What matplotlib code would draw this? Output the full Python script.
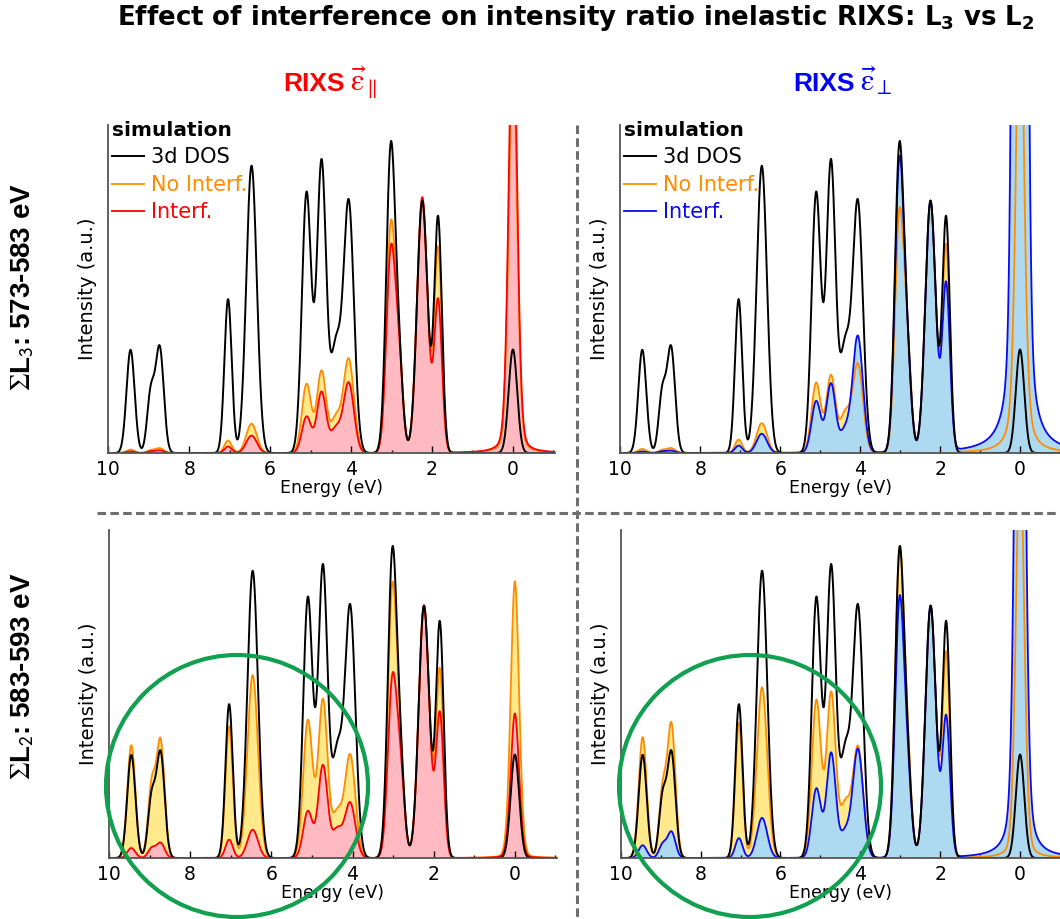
import numpy as np
import matplotlib
matplotlib.use("Agg")
import matplotlib.pyplot as plt
from matplotlib.patches import Ellipse
from matplotlib.lines import Line2D

# ---------------- data ----------------
# component peaks (energy loss, eV) shared by all spectra, with their Gaussian widths
peak_energy = [9.45, 8.95, 8.73, 7.04, 6.46, 5.10, 4.73, 4.38, 4.06, 3.02, 2.82, 2.24, 1.85]
peak_sigma = [0.10, 0.09, 0.10, 0.09, 0.13, 0.115, 0.115, 0.12, 0.13, 0.11, 0.10, 0.13, 0.095]

# heights of the curves at these energies (1.0 = highest 3d DOS peak)
dos_height = [0.332, 0.22, 0.346, 0.495, 0.924, 0.841, 0.946, 0.375, 0.817, 1.0, 0.45, 0.812, 0.763]

l3_par_nointerf = [0.011, 0.010, 0.016, 0.040, 0.094, 0.223, 0.266, 0.126, 0.305, 0.745, 0.42, 0.810, 0.665]
l3_par_interf = [0.005, 0.006, 0.009, 0.021, 0.056, 0.118, 0.198, 0.088, 0.228, 0.667, 0.40, 0.823, 0.498]
l3_perp_nointerf = [0.013, 0.011, 0.016, 0.043, 0.096, 0.227, 0.252, 0.139, 0.289, 0.785, 0.44, 0.804, 0.673]
l3_perp_interf = [0.005, 0.006, 0.008, 0.024, 0.062, 0.168, 0.225, 0.091, 0.378, 0.952, 0.45, 0.812, 0.552]

l2_par_nointerf = [0.363, 0.26, 0.386, 0.424, 0.588, 0.445, 0.513, 0.160, 0.335, 0.885, 0.43, 0.810, 0.612]
l2_par_interf = [0.032, 0.035, 0.050, 0.059, 0.091, 0.152, 0.300, 0.100, 0.180, 0.592, 0.36, 0.813, 0.472]
l2_perp_nointerf = [0.389, 0.25, 0.437, 0.435, 0.549, 0.510, 0.536, 0.190, 0.362, 0.998, 0.47, 0.810, 0.665]
l2_perp_interf = [0.041, 0.050, 0.086, 0.064, 0.129, 0.225, 0.340, 0.100, 0.352, 0.842, 0.40, 0.812, 0.461]

# elastic line at 0 eV: (Gaussian amplitude, Lorentzian tail weight)
elastic_sigma = 0.105
elastic_gamma = 0.10
dos_elastic = (0.333, 0.0)
l3_par_elastic = [(1.00, 0.003), (1.10, 0.004)]      # no interf., interf.
l3_perp_elastic = [(0.80, 0.009), (8.40, 0.030)]
l2_par_elastic = [(0.79, 0.001), (0.405, 0.0006)]
l2_perp_elastic = [(1.00, 0.0036), (2.20, 0.013)]

legend_labels = ["3d DOS", "No Interf.", "Interf."]
x_ticks = [10, 8, 6, 4, 2, 0]

# ---------------- spectrum construction ----------------
E = np.linspace(10.0, -1.1, 3000)
cen = np.array(peak_energy)
sig = np.array(peak_sigma)


def elastic(x, amp, tail):
    return amp * np.exp(-x ** 2 / (2 * elastic_sigma ** 2)) + tail / (x ** 2 + elastic_gamma ** 2)


def nnls(M, b):
    free = np.ones(M.shape[1], bool)
    x = np.zeros(M.shape[1])
    for _ in range(60):
        x = np.zeros(M.shape[1])
        x[free] = np.linalg.lstsq(M[:, free], b, rcond=None)[0]
        neg = x < 0
        if not neg.any():
            return x
        free &= ~neg
    return np.clip(x, 0, None)


def spectrum(heights, el):
    M = np.exp(-(cen[:, None] - cen[None, :]) ** 2 / (2 * sig[None, :] ** 2))
    target = np.array(heights) - elastic(cen, *el)
    amps = nnls(M, target)
    y = (amps[None, :] * np.exp(-(E[:, None] - cen[None, :]) ** 2 / (2 * sig[None, :] ** 2))).sum(axis=1)
    return y + elastic(E, *el)


dos = spectrum(dos_height, dos_elastic)

# ---------------- figure ----------------
W, H = 1060, 919
fig = plt.figure(figsize=(W / 100, H / 100), dpi=100)

ORANGE = "#FF8C00"
YELLOW = "#FFE98A"
RED = "#FF0000"
PINK = "#FFB9C1"
BLUE = "#0A0AF5"
LBLUE = "#AEDAF1"
SPINE = "#555555"


def px_axes(left, right, top, bottom):
    return fig.add_axes([left / W, 1 - bottom / H, (right - left) / W, (bottom - top) / H])


panels = [
    # left, right, top, bottom, xmin, nointerf, interf, elastic, color, fill, legend
    (108.3, 555.0, 125, 453, -1.04, l3_par_nointerf, l3_par_interf, l3_par_elastic, RED, PINK, True),
    (620.3, 1060.0, 125, 453, -0.811, l3_perp_nointerf, l3_perp_interf, l3_perp_elastic, BLUE, LBLUE, True),
    (109.0, 556.7, 530, 858, -1.03, l2_par_nointerf, l2_par_interf, l2_par_elastic, RED, PINK, False),
    (620.7, 1060.0, 530, 858, -0.82, l2_perp_nointerf, l2_perp_interf, l2_perp_elastic, BLUE, LBLUE, False),
]

for left, right, top, bottom, xmin, no_h, in_h, els, col, fcol, leg in panels:
    ax = px_axes(left, right, top, bottom)
    y_no = spectrum(no_h, els[0])
    y_in = spectrum(in_h, els[1])
    ax.fill_between(E, 0, y_no, color=YELLOW, lw=0)
    ax.fill_between(E, 0, y_in, color=fcol, lw=0)
    l_no, = ax.plot(E, y_no, color=ORANGE, lw=1.3)
    l_in, = ax.plot(E, y_in, color=col, lw=1.3)
    l_dos, = ax.plot(E, dos, color="black", lw=1.4)
    ax.set_xlim(10, xmin)
    ax.set_ylim(0, 1.055)
    ax.set_xticks(x_ticks)
    ax.set_xticks(np.arange(-1, 11, 1), minor=True)
    ax.set_yticks([])
    ax.tick_params(axis="x", which="major", direction="in", length=5, width=1.0,
                   labelsize=13.5, pad=5, color="black")
    ax.tick_params(axis="x", which="minor", direction="in", length=2.5, width=1.0, color="black")
    for s in ("top", "right"):
        ax.spines[s].set_visible(False)
    for s in ("left", "bottom"):
        ax.spines[s].set_color(SPINE)
        ax.spines[s].set_linewidth(1.3)
    ax.set_xlabel("Energy (eV)", fontsize=12.5, labelpad=0)
    ax.set_ylabel("Intensity (a.u.)", fontsize=14, labelpad=8)
    ax.patch.set_alpha(0)
    if leg:
        lg = ax.legend([l_dos, l_no, l_in], legend_labels, loc="upper left",
                       bbox_to_anchor=(0.0, 1.025), frameon=False, fontsize=15,
                       title="simulation", title_fontproperties={"weight": "bold", "size": 14.5},
                       handlelength=1.5, handletextpad=0.35, labelspacing=0.36,
                       borderpad=0.2, borderaxespad=0.0)
        lg._legend_box.align = "left"
        for t, c in zip(lg.get_texts(), ["black", ORANGE, col]):
            t.set_color(c)

# separators
dash = (0, (2.8, 1.4))
fig.add_artist(Line2D([97 / W, 1.0], [1 - 513 / H] * 2, transform=fig.transFigure,
                      color="#6E6E6E", lw=2.2, linestyle=dash))
fig.add_artist(Line2D([577 / W] * 2, [1 - 125 / H, 0.0], transform=fig.transFigure,
                      color="#6E6E6E", lw=2.2, linestyle=dash))

# green circles
for cx in (237, 750):
    fig.add_artist(Ellipse((cx / W, 1 - 786 / H), 262 / W, 262 / H, transform=fig.transFigure,
                           fill=False, edgecolor="#10A050", lw=3.0))

# titles
fig.text(576 / W, 1 - 25 / H, r"Effect of interference on intensity ratio inelastic RIXS: L$_\mathbf{3}$ vs L$_\mathbf{2}$",
         ha="center", va="baseline", fontsize=18.7, fontweight="bold", family="DejaVu Sans")

renderer = fig.canvas.get_renderer()
for x0, sub, c in ((283, r"\parallel", RED), (793, r"\perp", "#0000FF")):
    t = fig.text(x0 / W, 1 - 91 / H, "RIXS", ha="left", va="baseline",
                 fontsize=19, fontweight="bold", family="Liberation Sans", color=c)
    x1 = t.get_window_extent(renderer).x1
    fig.text((x1 + 5) / W, 1 - 91 / H, r"$\vec{\mathrm{\varepsilon}}_{%s}$" % sub, ha="left",
             va="baseline", fontsize=22, color=c, math_fontfamily="stix")

fig.text(23 / W, 1 - 287 / H, r"$\Sigma$L$_\mathsf{3}$: 573-583 eV", ha="center", va="center", rotation=90,
         fontsize=20, fontweight="bold", family="Liberation Sans", math_fontfamily="stix")
fig.text(23 / W, 1 - 676 / H, r"$\Sigma$L$_\mathsf{2}$: 583-593 eV", ha="center", va="center", rotation=90,
         fontsize=20, fontweight="bold", family="Liberation Sans", math_fontfamily="stix")

fig.savefig("out.png", dpi=100)
